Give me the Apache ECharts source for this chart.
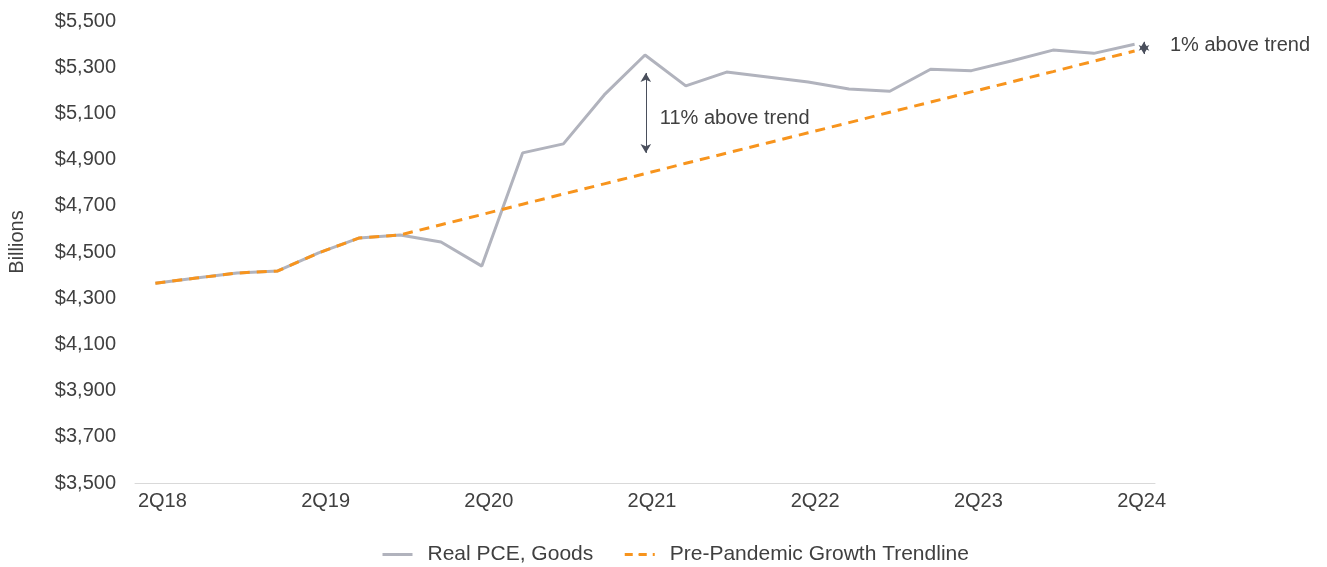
<!DOCTYPE html>
<html>
<head>
<meta charset="utf-8">
<script src="https://cdn.jsdelivr.net/npm/echarts@6/dist/echarts.min.js"></script>
<style>
  html, body { margin: 0; padding: 0; background: #fff; }
  #chart { width: 1327px; height: 567px; }
</style>
</head>
<body>
<div id="chart"></div>
<script>
  // quarters, 2Q18 .. 2Q24
  var quarters = ['2Q18', '3Q18', '4Q18', '1Q19', '2Q19', '3Q19', '4Q19', '1Q20', '2Q20',
    '3Q20', '4Q20', '1Q21', '2Q21', '3Q21', '4Q21', '1Q22', '2Q22', '3Q22', '4Q22',
    '1Q23', '2Q23', '3Q23', '4Q23', '1Q24', '2Q24'];

  // Real PCE, Goods (billions)
  var realPce = [4365, 4387, 4409, 4418, 4496, 4561, 4574, 4543, 4439,
    4929, 4968, 5180, 5353, 5219, 5279, 5258, 5236, 5206, 5196,
    5291, 5285, 5328, 5374, 5360, 5399];

  // pre-pandemic growth trendline (billions)
  var trend = [4365, 4387, 4409, 4418, 4496, 4561, 4574, 4618, 4662,
    4707, 4751, 4795, 4839, 4884, 4928, 4972, 5016, 5060, 5105,
    5149, 5193, 5237, 5281, 5326, 5370];

  var yTicks = { min: 3500, max: 5500, step: 200 };

  var textColor = '#404040';
  var font = 'Liberation Sans, Arial, sans-serif';
  var grayLine = '#b1b3bd';
  var orangeLine = '#f7941d';

  var myChart = echarts.init(document.getElementById('chart'));
  myChart.setOption({
    animation: false,
    backgroundColor: '#fff',
    textStyle: { fontFamily: font, color: textColor },
    grid: { left: 135, right: 172, top: 21, bottom: 84, outerBoundsMode: 'none', containLabel: false },
    legend: {
      data: [
        { name: 'Real PCE, Goods', lineStyle: { color: grayLine, width: 3, type: 'solid' } },
        { name: 'Pre-Pandemic Growth Trendline', lineStyle: { color: orangeLine, width: 3, type: [8, 6] } }
      ],
      left: 381,
      top: 544,
      padding: 0,
      itemWidth: 30,
      itemHeight: 3,
      itemGap: 30,
      textStyle: { fontSize: 21, color: textColor, fontFamily: font, padding: [0, 0, 0, 10] }
    },
    xAxis: [{
      type: 'category',
      data: quarters,
      boundaryGap: true,
      axisLine: { lineStyle: { color: '#d9d9d9', width: 1 } },
      axisTick: { show: false },
      axisLabel: {
        interval: 3,
        fontSize: 20,
        color: textColor,
        margin: 8,
        padding: [0, 0, 0, 14]
      }
    }, {
      // helper axis for annotations, same span as the category axis
      type: 'value',
      min: -0.5,
      max: 24.5,
      show: false
    }],
    yAxis: {
      type: 'value',
      min: yTicks.min,
      max: yTicks.max,
      interval: yTicks.step,
      name: 'Billions',
      nameLocation: 'middle',
      nameGap: 108,
      nameRotate: 90,
      nameTextStyle: { fontSize: 20, color: textColor, padding: [0, 0, 0, 20] },
      splitLine: { show: false },
      axisLine: { show: false },
      axisTick: { show: false },
      axisLabel: {
        fontSize: 20,
        color: textColor,
        margin: 19,
        formatter: function (v) { return '$' + v.toLocaleString('en-US'); }
      }
    },
    series: [
      {
        name: 'Real PCE, Goods',
        type: 'line',
        data: realPce,
        symbol: 'none',
        color: grayLine,
        lineStyle: { color: grayLine, width: 3 }
      },
      {
        name: 'Pre-Pandemic Growth Trendline',
        type: 'line',
        data: trend,
        symbol: 'none',
        color: orangeLine,
        lineStyle: { color: orangeLine, width: 3, type: [10, 7] }
      },
      {
        name: 'notes',
        type: 'line',
        xAxisIndex: 1,
        data: [],
        symbol: 'none',
        silent: true,
        markLine: {
          silent: true,
          symbol: ['arrow', 'arrow'],
          symbolSize: [8, 9],
          lineStyle: { color: '#4a4f5c', width: 1, type: 'solid' },
          label: { show: false },
          data: [
            [{ coord: [12.02, 5275] }, { coord: [12.02, 4929] }],
            [{ coord: [24.23, 5410] }, { coord: [24.23, 5357] }]
          ]
        },
        markPoint: {
          silent: true,
          symbol: 'circle',
          symbolSize: 0,
          label: {
            show: true,
            position: 'right',
            fontSize: 20,
            color: textColor
          },
          data: [
            { coord: [12.02, 5080], value: '11% above trend', label: { distance: 14, formatter: '11% above trend' } },
            { coord: [24.23, 5396], value: '1% above trend', label: { distance: 26, formatter: '1% above trend' } }
          ]
        }
      }
    ]
  });
</script>
</body>
</html>
